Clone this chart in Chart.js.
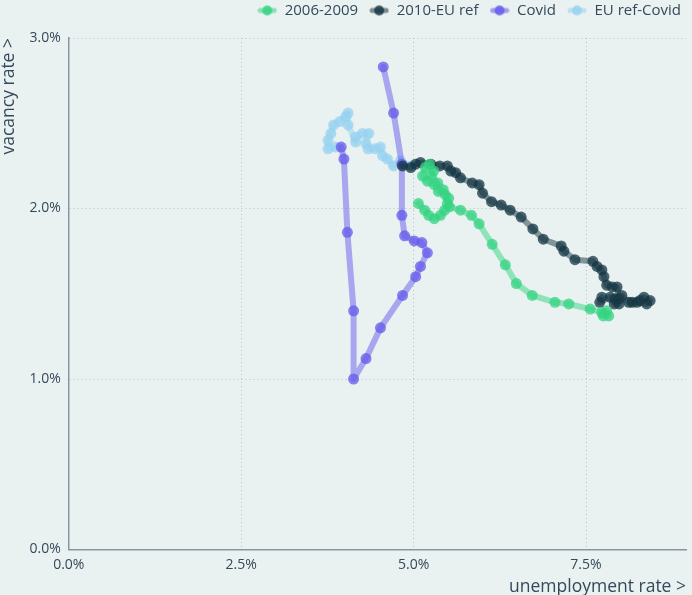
<!DOCTYPE html>
<html>
<head>
<meta charset="utf-8">
<script src="https://cdn.jsdelivr.net/npm/chart.js@4.4.1/dist/chart.umd.min.js"></script>
<style>
  html, body { margin: 0; padding: 0; background: #eaf2f1; }
  #wrap { width: 692px; height: 595px; }
</style>
</head>
<body>
<div id="wrap"><canvas id="chart"></canvas></div>
<script>
// unemployment rate (x) / vacancy rate (y), in %
var seriesNames = ['2006-2009', '2010-EU ref', 'Covid', 'EU ref-Covid'];

var gfcX = [5.07, 5.16, 5.22, 5.30, 5.39, 5.45, 5.49, 5.46, 5.36, 5.30, 5.20, 5.13, 5.17, 5.23, 5.29, 5.26,
    5.35, 5.43, 5.51, 5.52, 5.68, 5.84, 5.95, 6.14, 6.33, 6.49, 6.72, 7.05, 7.25, 7.56, 7.73, 7.80, 7.83, 7.75];
var gfcY = [2.03, 1.99, 1.96, 1.94, 1.96, 1.99, 2.03, 2.08, 2.10, 2.14, 2.16, 2.19, 2.24, 2.26, 2.22, 2.19,
    2.15, 2.11, 2.06, 2.01, 1.99, 1.96, 1.91, 1.79, 1.67, 1.56, 1.49, 1.45, 1.44, 1.41, 1.39, 1.40, 1.37, 1.37];

var recX = [7.73, 7.70, 7.85, 7.92, 7.98, 7.91, 8.02, 8.12, 8.17, 8.28, 8.34, 8.43, 8.38, 8.24, 7.98, 7.95,
    7.88, 7.80, 7.76, 7.73, 7.66, 7.60, 7.34, 7.18, 7.14, 6.88, 6.73, 6.56, 6.40, 6.27, 6.13, 6.00,
    5.95, 5.85, 5.68, 5.61, 5.54, 5.49, 5.38, 5.25, 5.10, 5.03, 4.96, 4.84];
var recY = [1.48, 1.45, 1.48, 1.47, 1.44, 1.44, 1.49, 1.45, 1.45, 1.46, 1.48, 1.46, 1.44, 1.45, 1.47, 1.54,
    1.54, 1.55, 1.60, 1.64, 1.66, 1.69, 1.70, 1.75, 1.78, 1.82, 1.88, 1.95, 1.99, 2.02, 2.04, 2.09,
    2.14, 2.15, 2.18, 2.21, 2.22, 2.25, 2.25, 2.26, 2.27, 2.26, 2.24, 2.25];

var covidX = [3.95, 3.99, 4.04, 4.13, 4.13, 4.31, 4.52, 4.84, 5.03, 5.10, 5.20, 5.12, 5.01, 4.87, 4.83, 4.83, 4.71, 4.56];
var covidY = [2.36, 2.29, 1.86, 1.40, 1.00, 1.12, 1.30, 1.49, 1.60, 1.66, 1.74, 1.80, 1.81, 1.84, 1.96, 2.26, 2.56, 2.83];

var refX = [4.96, 4.81, 4.71, 4.62, 4.55, 4.52, 4.44, 4.34, 4.31, 4.35, 4.26, 4.16, 4.16, 4.05, 4.02, 4.05,
    3.93, 3.84, 3.80, 3.76, 3.76, 3.87];
var refY = [2.25, 2.28, 2.25, 2.29, 2.31, 2.36, 2.35, 2.35, 2.38, 2.44, 2.44, 2.42, 2.39, 2.49, 2.54, 2.56,
    2.51, 2.49, 2.44, 2.40, 2.35, 2.36];

var xTicks = [0, 2.5, 5, 7.5];
var colors = ['52,211,130', '22,55,68', '100,90,235', '150,210,240'];

function toPoints(xs, ys) {
    return xs.map(function (x, i) { return { x: x, y: ys[i] }; });
}

// small line+dot marker for the legend
function legendMarker(rgb) {
    var c = document.createElement('canvas');
    c.width = 20; c.height = 12;
    var ctx = c.getContext('2d');
    ctx.strokeStyle = 'rgba(' + rgb + ',0.55)';
    ctx.lineWidth = 5;
    ctx.lineCap = 'round';
    ctx.beginPath(); ctx.moveTo(3, 6); ctx.lineTo(17, 6); ctx.stroke();
    ctx.fillStyle = 'rgba(' + rgb + ',0.85)';
    ctx.beginPath(); ctx.arc(10, 6, 5, 0, Math.PI * 2); ctx.fill();
    return c;
}

var allX = [gfcX, recX, covidX, refX];
var allY = [gfcY, recY, covidY, refY];

var datasets = seriesNames.map(function (name, i) {
    return {
        label: name,
        data: toPoints(allX[i], allY[i]),
        showLine: true,
        borderColor: 'rgba(' + colors[i] + ',0.5)',
        borderWidth: 6,
        borderJoinStyle: 'round',
        borderCapStyle: 'round',
        backgroundColor: 'rgba(' + colors[i] + ',0.75)',
        pointBorderWidth: 0,
        pointRadius: 5.5,
        pointHoverRadius: 6,
        tension: 0
    };
});

var textColor = '#34495a';
var axisColor = '#8596a3';
var gridColor = '#b4bec3';
var fontFamily = 'Open Sans';

// a little more room under the legend
var legendGap = {
    id: 'legendGap',
    beforeInit: function (chart) {
        var fit = chart.legend.fit;
        chart.legend.fit = function () {
            fit.bind(chart.legend)();
            this.height += 10;
        };
    }
};

new Chart(document.getElementById('chart'), {
    type: 'scatter',
    data: { datasets: datasets },
    plugins: [legendGap],
    options: {
        responsive: true,
        maintainAspectRatio: false,
        animation: false,
        layout: { padding: { left: 0, right: 0, top: -8, bottom: -3 } },
        plugins: {
            legend: {
                position: 'top',
                align: 'end',
                labels: {
                    usePointStyle: true,
                    pointStyleWidth: 20,
                    color: textColor,
                    font: { family: fontFamily, size: 15 },
                    padding: 11,
                    boxHeight: 10,
                    generateLabels: function (chart) {
                        return chart.data.datasets.map(function (ds, i) {
                            return {
                                text: ds.label,
                                pointStyle: legendMarker(colors[i]),
                                fontColor: textColor,
                                datasetIndex: i,
                                hidden: !chart.isDatasetVisible(i),
                                lineWidth: 0
                            };
                        });
                    }
                }
            },
            tooltip: { enabled: false }
        },
        scales: {
            x: {
                type: 'linear',
                min: 0,
                max: 8.95,
                afterBuildTicks: function (scale) {
                    scale.ticks = xTicks.map(function (v) { return { value: v }; });
                },
                ticks: {
                    color: textColor,
                    font: { family: fontFamily, size: 14, lineHeight: 1 },
                    padding: 9,
                    callback: function (v) { return v.toFixed(1) + '%'; }
                },
                grid: {
                    color: function (ctx) { return ctx.tick && ctx.tick.value === 0 ? 'rgba(0,0,0,0)' : gridColor; },
                    drawTicks: false
                },
                border: { display: true, color: axisColor, width: 1.5, dash: [1, 3] },
                title: {
                    display: true,
                    text: 'unemployment rate >',
                    align: 'end',
                    color: textColor,
                    font: { family: fontFamily, size: 17.5, lineHeight: 1 },
                    padding: { top: -3, bottom: 2 }
                }
            },
            y: {
                type: 'linear',
                min: 0,
                max: 3,
                ticks: {
                    stepSize: 1,
                    color: textColor,
                    font: { family: fontFamily, size: 14 },
                    padding: 8,
                    callback: function (v) { return v.toFixed(1) + '%'; }
                },
                grid: {
                    color: function (ctx) { return ctx.tick && ctx.tick.value === 0 ? 'rgba(0,0,0,0)' : gridColor; },
                    drawTicks: false
                },
                border: { display: true, color: axisColor, width: 1.5, dash: [1, 3] },
                title: {
                    display: true,
                    text: 'vacancy rate >',
                    align: 'end',
                    color: textColor,
                    font: { family: fontFamily, size: 17.5, lineHeight: 1 },
                    padding: { top: 0, bottom: 4 }
                }
            }
        }
    }
});
</script>
</body>
</html>
